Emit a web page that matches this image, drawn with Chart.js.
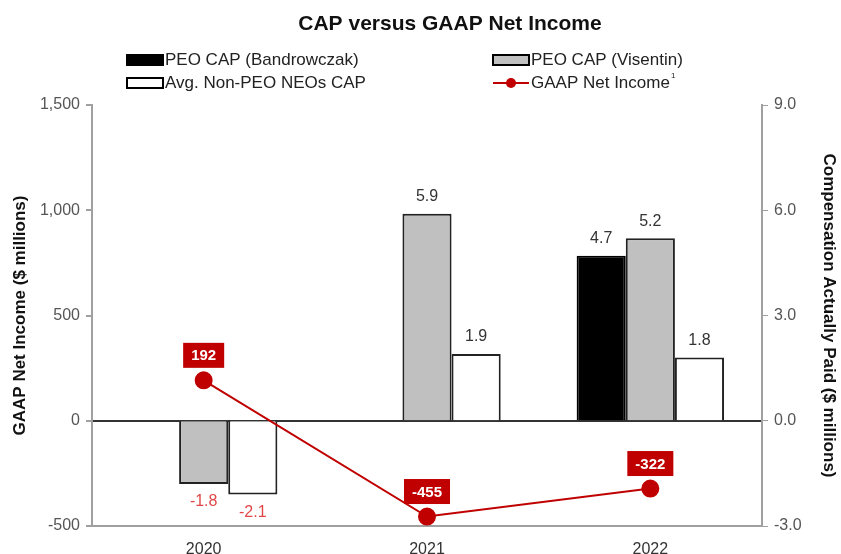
<!DOCTYPE html>
<html>
<head>
<meta charset="utf-8">
<script src="https://cdn.jsdelivr.net/npm/chart.js@4.4.1/dist/chart.umd.min.js"></script>
<style>
  html, body { margin: 0; padding: 0; background: #fff; }
  #wrap { width: 841px; height: 554px; position: relative; }
</style>
</head>
<body>
<div id="wrap"><canvas id="chart" width="841" height="554"></canvas></div>
<script>
const years = ['2020', '2021', '2022'];
const capBandrowczak = [null, null, 4.7];
const capVisentin = [-1.8, 5.9, 5.2];
const capNonPeo = [-2.1, 1.9, 1.8];
const netIncome = [192, -455, -322];

const leftTicks = [-500, 0, 500, 1000, 1500];
const rightTicks = [-3, 0, 3, 6, 9];

const RED = '#c00000';
const FONT = '"Liberation Sans", Arial, sans-serif';

// title, legend and value labels drawn by hand
const decorations = {
    id: 'decorations',
    afterDatasetsDraw(chart) {
        const ctx = chart.ctx;
        ctx.save();

        // title
        ctx.fillStyle = '#111';
        ctx.font = 'bold 21px ' + FONT;
        ctx.textAlign = 'center';
        ctx.textBaseline = 'middle';
        ctx.fillText('CAP versus GAAP Net Income', 450, 24);

        // legend
        ctx.font = '17px ' + FONT;
        ctx.textAlign = 'left';
        const rows = [60, 83];
        const cols = [127, 493];
        const box = (x, y, fill) => {
            ctx.fillStyle = fill;
            ctx.fillRect(x, y - 5, 36, 10);
            ctx.strokeStyle = '#000';
            ctx.lineWidth = 2;
            ctx.strokeRect(x, y - 5, 36, 10);
        };
        box(cols[0], rows[0], '#000');
        box(cols[1], rows[0], '#c0c0c0');
        box(cols[0], rows[1], '#fff');
        ctx.strokeStyle = RED;
        ctx.lineWidth = 2;
        ctx.beginPath();
        ctx.moveTo(cols[1], rows[1]);
        ctx.lineTo(cols[1] + 36, rows[1]);
        ctx.stroke();
        ctx.fillStyle = RED;
        ctx.beginPath();
        ctx.arc(cols[1] + 18, rows[1], 5, 0, Math.PI * 2);
        ctx.fill();

        ctx.fillStyle = '#222';
        ctx.fillText('PEO CAP (Bandrowczak)', cols[0] + 38, rows[0]);
        ctx.fillText('PEO CAP (Visentin)', cols[1] + 38, rows[0]);
        ctx.fillText('Avg. Non-PEO NEOs CAP', cols[0] + 38, rows[1]);
        const gt = 'GAAP Net Income';
        ctx.fillText(gt, cols[1] + 38, rows[1]);
        const w = ctx.measureText(gt).width;
        ctx.font = '8px ' + FONT;
        ctx.fillText('1', cols[1] + 39 + w, rows[1] - 7);

        // bar value labels
        ctx.font = '16px ' + FONT;
        ctx.textAlign = 'center';
        [0, 1, 2].forEach(di => {
            const meta = chart.getDatasetMeta(di);
            const data = chart.data.datasets[di].data;
            meta.data.forEach((bar, i) => {
                const v = data[i];
                if (v === null || v === undefined) return;
                if (v >= 0) {
                    ctx.fillStyle = '#333';
                    ctx.fillText(v.toFixed(1), bar.x, bar.y - 17);
                } else {
                    ctx.fillStyle = '#e04848';
                    ctx.fillText(v.toFixed(1), bar.x, bar.y + 18);
                }
            });
        });

        // net income label boxes
        const meta = chart.getDatasetMeta(3);
        ctx.font = 'bold 15px ' + FONT;
        meta.data.forEach((pt, i) => {
            const txt = String(netIncome[i]);
            const tw = ctx.measureText(txt).width;
            const bw = tw + 16, bh = 25;
            const cy = pt.y - 25;
            ctx.fillStyle = RED;
            ctx.fillRect(pt.x - bw / 2, cy - bh / 2, bw, bh);
            ctx.fillStyle = '#fff';
            ctx.fillText(txt, pt.x, cy + 1);
        });

        ctx.restore();
    }
};

new Chart(document.getElementById('chart'), {
    type: 'bar',
    data: {
        labels: years,
        datasets: [
            {
                label: 'PEO CAP (Bandrowczak)',
                data: capBandrowczak,
                backgroundColor: '#000',
                borderColor: '#000',
                borderWidth: 2,
                yAxisID: 'yR',
                order: 2
            },
            {
                label: 'PEO CAP (Visentin)',
                data: capVisentin,
                backgroundColor: '#c0c0c0',
                borderColor: '#222',
                borderWidth: 2,
                yAxisID: 'yR',
                order: 2
            },
            {
                label: 'Avg. Non-PEO NEOs CAP',
                data: capNonPeo,
                backgroundColor: '#fff',
                borderColor: '#222',
                borderWidth: 2,
                yAxisID: 'yR',
                order: 2
            },
            {
                type: 'line',
                label: 'GAAP Net Income',
                data: netIncome,
                borderColor: RED,
                backgroundColor: RED,
                borderWidth: 2,
                pointRadius: 8,
                pointBackgroundColor: RED,
                pointBorderColor: RED,
                tension: 0,
                yAxisID: 'yL',
                order: 1
            }
        ]
    },
    options: {
        responsive: false,
        animation: false,
        layout: { padding: { top: 105, left: 0, right: 0, bottom: 0 } },
        datasets: {
            bar: { categoryPercentage: 0.66, barPercentage: 1.0, skipNull: false }
        },
        plugins: {
            legend: { display: false },
            tooltip: { enabled: false }
        },
        scales: {
            x: {
                grid: { display: false },
                border: { display: true, color: '#a0a0a0', width: 2 },
                ticks: { color: '#333', font: { family: FONT, size: 16 }, padding: 6 },
                afterFit(scale) { scale.height = 28; }
            },
            yL: {
                position: 'left',
                min: -500,
                max: 1500,
                afterBuildTicks(scale) { scale.ticks = leftTicks.map(v => ({ value: v })); },
                grid: {
                    color: c => (c.tick && c.tick.value === 0 ? '#333' : 'transparent'),
                    lineWidth: 2,
                    tickColor: '#a0a0a0',
                    tickLength: 6
                },
                border: { display: true, color: '#a0a0a0', width: 2 },
                ticks: {
                    color: '#555',
                    font: { family: FONT, size: 16 },
                    padding: 6,
                    callback: v => v.toLocaleString('en-US')
                },
                title: {
                    display: true,
                    text: 'GAAP Net Income ($ millions)',
                    color: '#111',
                    font: { family: FONT, size: 17, weight: 'bold' },
                    padding: { top: 10, bottom: 0 }
                },
                afterFit(scale) { scale.width = 92; }
            },
            yR: {
                position: 'right',
                min: -3,
                max: 9,
                afterBuildTicks(scale) { scale.ticks = rightTicks.map(v => ({ value: v })); },
                grid: {
                    drawOnChartArea: false,
                    tickColor: '#a0a0a0',
                    tickLength: 6
                },
                border: { display: true, color: '#a0a0a0', width: 2 },
                ticks: {
                    color: '#555',
                    font: { family: FONT, size: 16 },
                    padding: 6,
                    callback: v => v.toFixed(1)
                },
                title: {
                    display: true,
                    text: 'Compensation Actually Paid ($ millions)',
                    color: '#111',
                    font: { family: FONT, size: 17, weight: 'bold' },
                    padding: { top: 2, bottom: 0 }
                },
                afterFit(scale) { scale.width = 79; }
            }
        }
    },
    plugins: [decorations]
});
</script>
</body>
</html>
